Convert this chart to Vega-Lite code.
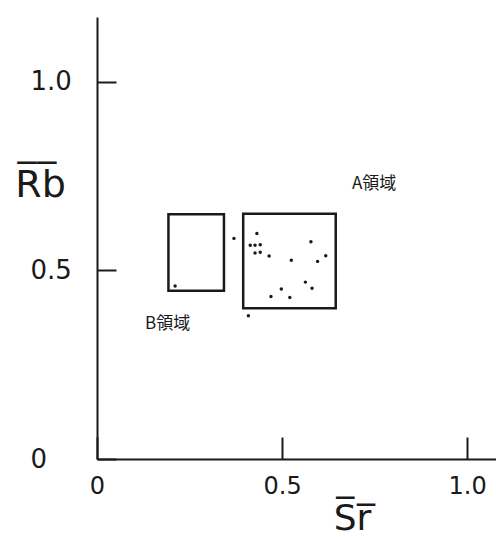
{
  "$schema": "https://vega.github.io/schema/vega-lite/v6.json",
  "width": 399,
  "height": 442,
  "autosize": {"type": "none"},
  "padding": {"left": 97, "top": 17, "right": 0, "bottom": 78},
  "background": "white",
  "config": {"view": {"stroke": null}},
  "datasets": {
    "boxes": [
      {"region": "B", "x": 0.193, "x2": 0.343, "y": 0.446, "y2": 0.649},
      {"region": "A", "x": 0.395, "x2": 0.645, "y": 0.400, "y2": 0.650}
    ],
    "points": [
      {"x": 0.211, "y": 0.459},
      {"x": 0.370, "y": 0.585},
      {"x": 0.432, "y": 0.598},
      {"x": 0.414, "y": 0.567},
      {"x": 0.427, "y": 0.567},
      {"x": 0.441, "y": 0.568},
      {"x": 0.427, "y": 0.546},
      {"x": 0.441, "y": 0.548},
      {"x": 0.465, "y": 0.538},
      {"x": 0.525, "y": 0.527},
      {"x": 0.578, "y": 0.576},
      {"x": 0.618, "y": 0.539},
      {"x": 0.596, "y": 0.524},
      {"x": 0.563, "y": 0.469},
      {"x": 0.581, "y": 0.453},
      {"x": 0.498, "y": 0.451},
      {"x": 0.470, "y": 0.431},
      {"x": 0.521, "y": 0.428},
      {"x": 0.409, "y": 0.380}
    ],
    "labels": [
      {"label": "A領域", "x": 0.689, "y": 0.728},
      {"label": "B領域", "x": 0.130, "y": 0.359}
    ]
  },
  "encoding": {
    "x": {
      "field": "x",
      "type": "quantitative",
      "scale": {"domain": [0, 1.078], "nice": false, "zero": false},
      "axis": {
        "values": [0, 0.5, 1.0],
        "labelExpr": "datum.value == 0 ? '0' : format(datum.value, '.1f')",
        "grid": false,
        "tickSize": -22,
        "tickWidth": 2,
        "tickColor": "#1a1a1a",
        "domainColor": "#1a1a1a",
        "domainWidth": 2,
        "labelFont": "DejaVu Sans",
        "labelFontSize": 24,
        "labelColor": "#1a1a1a",
        "labelPadding": 37,
        "labelBaseline": "top",
        "labelFlush": false,
        "labelOverlap": false,
        "title": "S̅r̅",
        "titleFont": "DejaVu Sans",
        "titleFontSize": 36,
        "titleFontWeight": "normal",
        "titleColor": "#1a1a1a",
        "titleX": 255,
        "titleY": 59,
        "titleAlign": "center",
        "titleBaseline": "middle"
      }
    },
    "y": {
      "field": "y",
      "type": "quantitative",
      "scale": {"domain": [0, 1.172], "nice": false, "zero": false},
      "axis": {
        "values": [0, 0.5, 1.0],
        "labelExpr": "datum.value == 0 ? '0' : format(datum.value, '.1f')",
        "grid": false,
        "tickSize": -19,
        "tickWidth": 2,
        "tickColor": "#1a1a1a",
        "domainColor": "#1a1a1a",
        "domainWidth": 2,
        "labelFont": "DejaVu Sans",
        "labelFontSize": 26,
        "labelColor": "#1a1a1a",
        "labelPadding": 86,
        "labelAlign": "left",
        "labelBaseline": "middle",
        "labelFlush": false,
        "labelOverlap": false,
        "title": "R̅b̅",
        "titleFont": "DejaVu Sans",
        "titleFontSize": 38,
        "titleFontWeight": "normal",
        "titleColor": "#1a1a1a",
        "titleAngle": 0,
        "titleX": -57,
        "titleY": 168,
        "titleAlign": "center",
        "titleBaseline": "middle"
      }
    }
  },
  "layer": [
    {
      "data": {"name": "boxes"},
      "mark": {"type": "rect", "fill": null, "stroke": "#1a1a1a", "strokeWidth": 2.5},
      "encoding": {
        "x2": {"field": "x2"},
        "y2": {"field": "y2"}
      }
    },
    {
      "data": {"name": "points"},
      "mark": {"type": "circle", "size": 12, "color": "#1a1a1a", "opacity": 1}
    },
    {
      "data": {"name": "labels"},
      "mark": {"type": "text", "align": "left", "baseline": "middle", "font": "Noto Sans CJK JP", "fontSize": 17, "color": "#1a1a1a"},
      "encoding": {"text": {"field": "label"}}
    }
  ]
}
